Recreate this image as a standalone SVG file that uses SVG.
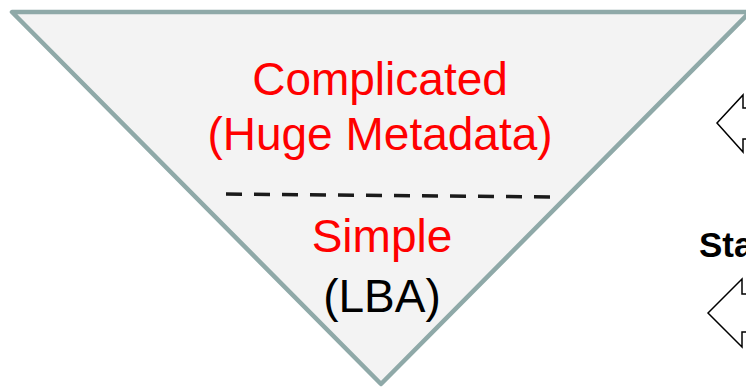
<svg xmlns="http://www.w3.org/2000/svg" width="746" height="392" viewBox="0 0 746 392">
  <style>
    .red { fill: #ff0000; font-family: "Liberation Sans", Arial, sans-serif; font-size: 46px; text-anchor: middle; }
    .blk { fill: #000000; font-family: "Liberation Sans", Arial, sans-serif; font-size: 46px; text-anchor: middle; }
    .bold { fill: #000000; font-family: "Liberation Sans", Arial, sans-serif; font-size: 35px; font-weight: bold; }
    .arrow { fill: #ffffff; stroke: #000000; stroke-width: 1.5; stroke-linejoin: miter; }
  </style>
  <rect width="746" height="392" fill="#ffffff"/>

  <!-- inverted triangle -->
  <g id="funnel">
    <polygon points="12,12 750,12 381,384" fill="#f3f3f3" stroke="#8fa9a8" stroke-width="4.5" stroke-linejoin="round"/>
    <line x1="226" y1="194" x2="552" y2="197" stroke="#1a1a1a" stroke-width="3.5" stroke-dasharray="16 12"/>
  </g>

  <g id="complicated">
    <text class="red" x="380" y="95">Complicated</text>
    <text class="red" x="380" y="150">(Huge Metadata)</text>
  </g>

  <g id="simple">
    <text class="red" x="382" y="252">Simple</text>
    <text class="blk" x="382" y="312">(LBA)</text>
  </g>

  <g id="label-right">
    <text class="bold" x="699" y="257">Sta</text>
  </g>

  <g id="connectors">
    <polygon class="arrow" points="717,123 743,95 743,108 760,108 760,139 743,139 743,152"/>
    <polygon class="arrow" points="708,313 742,279 742,294 760,294 760,332 742,332 742,347"/>
  </g>
</svg>
